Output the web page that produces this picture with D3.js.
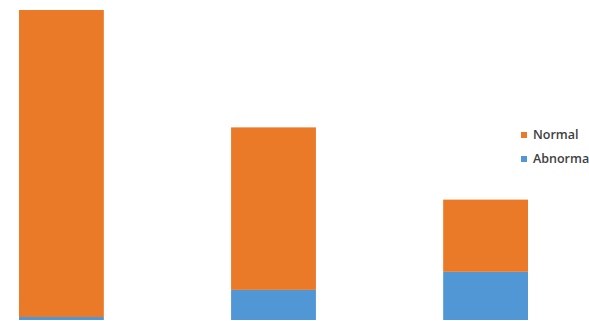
<!DOCTYPE html>
<html>
<head>
<meta charset="utf-8">
<script src="https://cdn.jsdelivr.net/npm/d3@7"></script>
<style>
  html, body { margin: 0; padding: 0; background: #fff; overflow: hidden; }
  svg { display: block; }
</style>
</head>
<body>
<svg id="chart" width="589" height="321"></svg>
<script>
// Stacked counts per group: Abnormal at the bottom, Normal on top
const groups = ["A", "B", "C"];
const normal = [102, 54, 24];
const abnormal = [1, 10, 16];
const seriesNames = ["Normal", "Abnormal"];
const seriesColors = ["#EB7A28", "#5197D6"];

const svg = d3.select("#chart");

const x = d3.scaleBand()
  .domain(groups)
  .range([19, 528])
  .paddingInner(0.6)
  .paddingOuter(0);

const y = d3.scaleLinear()
  .domain([0, 103])
  .range([320, 10]);

const rows = groups.map((g, i) => ({ group: g, Abnormal: abnormal[i], Normal: normal[i] }));
const layers = d3.stack().keys(["Abnormal", "Normal"])(rows);
const color = d3.scaleOrdinal().domain(seriesNames).range(seriesColors);

svg.append("g")
  .selectAll("g")
  .data(layers)
  .join("g")
  .attr("fill", d => color(d.key))
  .selectAll("rect")
  .data(d => d)
  .join("rect")
  .attr("x", d => x(d.data.group))
  .attr("width", x.bandwidth())
  .attr("y", d => y(d[1]))
  .attr("height", d => y(d[0]) - y(d[1]));

// Legend
const legend = svg.append("g").attr("transform", "translate(521,131)");
const item = legend.selectAll("g")
  .data(seriesNames)
  .join("g")
  .attr("transform", (d, i) => `translate(0,${i * 24})`);

item.append("rect")
  .attr("width", 6)
  .attr("height", 6)
  .attr("y", 1)
  .attr("fill", d => color(d));

item.append("text")
  .attr("x", 12)
  .attr("y", 8)
  .attr("font-family", "'Open Sans', 'Liberation Sans', sans-serif")
  .attr("font-size", 12.5)
  .attr("font-weight", 600)
  .attr("fill", "#404040")
  .text(d => d);
</script>
</body>
</html>
